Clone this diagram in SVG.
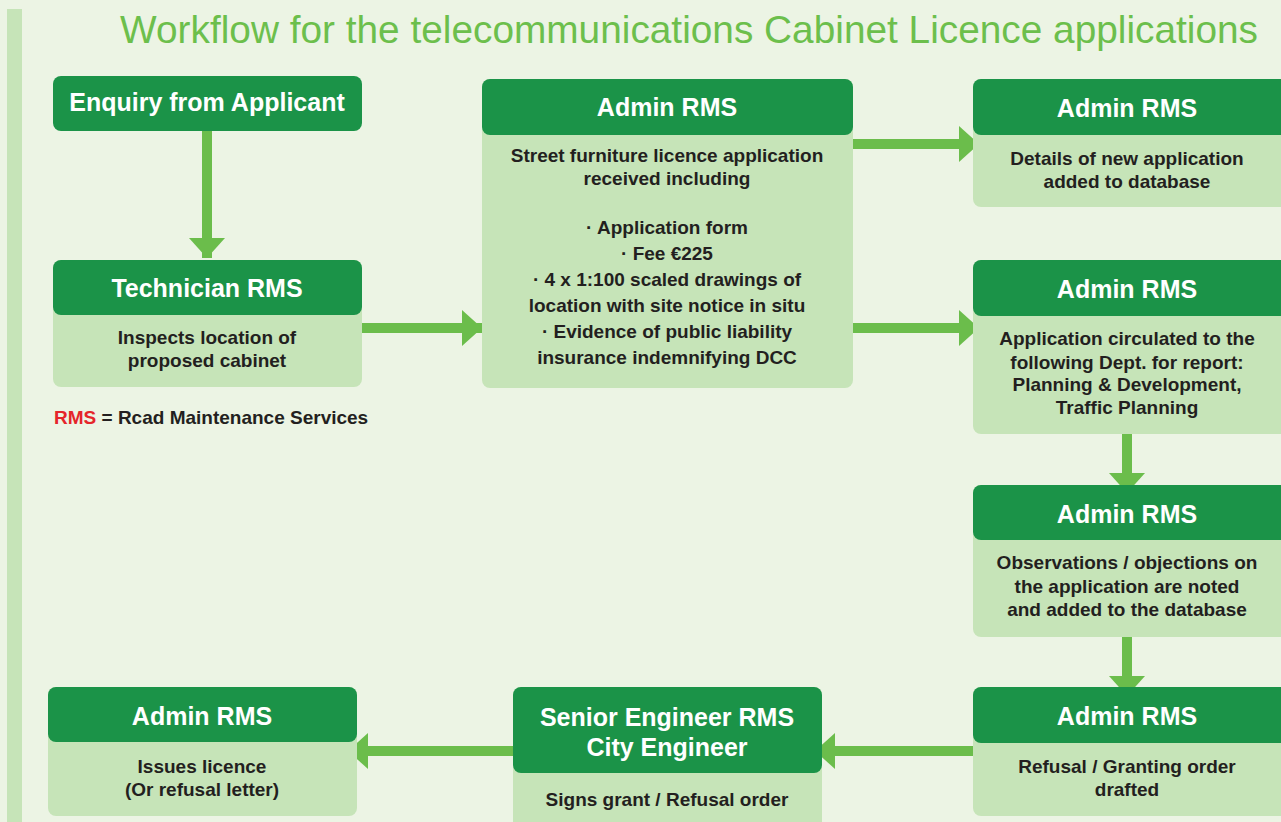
<svg xmlns="http://www.w3.org/2000/svg" width="1281" height="822" viewBox="0 0 1281 822">
  <style>
    .head { fill: #1b9348; }
    .body { fill: #c6e4b8; }
    .ht { font-family: "Liberation Sans", Arial, sans-serif; font-weight: bold; font-size: 25px; fill: #ffffff; text-anchor: middle; }
    .bt { font-family: "Liberation Sans", Arial, sans-serif; font-weight: bold; font-size: 19px; fill: #231f20; text-anchor: middle; }
    .conn { stroke: #6bbd4b; stroke-width: 10; fill: none; marker-end: url(#tip); }
  </style>
  <defs>
    <marker id="tip" viewBox="0 0 20 36" refX="20" refY="18" markerWidth="20" markerHeight="36" markerUnits="userSpaceOnUse" orient="auto">
      <path d="M0,0 L20,18 L0,36 Z" fill="#6bbd4b"/>
    </marker>
  </defs>

  <!-- page -->
  <rect x="0" y="0" width="1281" height="822" fill="#ecf4e4"/>
  <rect x="7" y="9" width="15" height="813" fill="#c6e4b8"/>
  <text x="1258" y="43" font-family="Liberation Sans, Arial, sans-serif" font-size="38.8" fill="#6cbf4c" text-anchor="end">Workflow for the telecommunications Cabinet Licence applications</text>

  <!-- connectors -->
  <g id="connectors">
    <line class="conn" x1="207" y1="131" x2="207" y2="258"/>
    <line class="conn" x1="362" y1="328" x2="482" y2="328"/>
    <line class="conn" x1="853" y1="144" x2="979" y2="144"/>
    <line class="conn" x1="853" y1="328" x2="979" y2="328"/>
    <line class="conn" x1="1127" y1="434" x2="1127" y2="493"/>
    <line class="conn" x1="1127" y1="637" x2="1127" y2="696"/>
    <line class="conn" x1="973" y1="751" x2="815" y2="751"/>
    <line class="conn" x1="513" y1="751" x2="348" y2="751"/>
  </g>

  <!-- nodes -->
  <g id="enquiry">
    <rect class="head" x="53" y="76" width="309" height="55" rx="8"/>
    <text class="ht" x="207" y="111">Enquiry from Applicant</text>
  </g>

  <g id="technician">
    <rect class="body" x="53" y="260" width="309" height="127" rx="8"/>
    <rect class="head" x="53" y="260" width="309" height="55" rx="8"/>
    <text class="ht" x="207" y="297">Technician RMS</text>
    <text class="bt" x="207" y="344">Inspects location of</text>
    <text class="bt" x="207" y="367">proposed cabinet</text>
  </g>

  <g id="legend">
    <text x="54" y="424" font-family="Liberation Sans, Arial, sans-serif" font-weight="bold" font-size="19" fill="#231f20"><tspan fill="#e5252a">RMS</tspan> = Rcad Maintenance Services</text>
  </g>

  <g id="application-received">
    <rect class="body" x="482" y="79" width="371" height="309" rx="8"/>
    <rect class="head" x="482" y="79" width="371" height="56" rx="8"/>
    <text class="ht" x="667" y="116">Admin RMS</text>
    <text class="bt" x="667" y="162">Street furniture licence application</text>
    <text class="bt" x="667" y="185">received including</text>
    <text class="bt" x="667" y="234">· Application form</text>
    <text class="bt" x="667" y="260">· Fee €225</text>
    <text class="bt" x="667" y="286">· 4 x 1:100 scaled drawings of</text>
    <text class="bt" x="667" y="312">location with site notice in situ</text>
    <text class="bt" x="667" y="338">· Evidence of public liability</text>
    <text class="bt" x="667" y="364">insurance indemnifying DCC</text>
  </g>

  <g id="database-entry">
    <rect class="body" x="973" y="79" width="320" height="128" rx="8"/>
    <rect class="head" x="973" y="79" width="320" height="56" rx="8"/>
    <text class="ht" x="1127" y="117">Admin RMS</text>
    <text class="bt" x="1127" y="165">Details of new application</text>
    <text class="bt" x="1127" y="188">added to database</text>
  </g>

  <g id="circulation">
    <rect class="body" x="973" y="260" width="320" height="174" rx="8"/>
    <rect class="head" x="973" y="260" width="320" height="56" rx="8"/>
    <text class="ht" x="1127" y="298">Admin RMS</text>
    <text class="bt" x="1127" y="345">Application circulated to the</text>
    <text class="bt" x="1127" y="369">following Dept. for report:</text>
    <text class="bt" x="1127" y="391">Planning &amp; Development,</text>
    <text class="bt" x="1127" y="414">Traffic Planning</text>
  </g>

  <g id="observations">
    <rect class="body" x="973" y="485" width="320" height="152" rx="8"/>
    <rect class="head" x="973" y="485" width="320" height="55" rx="8"/>
    <text class="ht" x="1127" y="523">Admin RMS</text>
    <text class="bt" x="1127" y="569">Observations / objections on</text>
    <text class="bt" x="1127" y="593">the application are noted</text>
    <text class="bt" x="1127" y="616">and added to the database</text>
  </g>

  <g id="order-drafted">
    <rect class="body" x="973" y="687" width="320" height="129" rx="8"/>
    <rect class="head" x="973" y="687" width="320" height="56" rx="8"/>
    <text class="ht" x="1127" y="725">Admin RMS</text>
    <text class="bt" x="1127" y="773">Refusal / Granting order</text>
    <text class="bt" x="1127" y="796">drafted</text>
  </g>

  <g id="engineer-sign-off">
    <rect class="body" x="513" y="687" width="309" height="145" rx="8"/>
    <rect class="head" x="513" y="687" width="309" height="86" rx="8"/>
    <text class="ht" x="667" y="726">Senior Engineer RMS</text>
    <text class="ht" x="667" y="756">City Engineer</text>
    <text class="bt" x="667" y="806">Signs grant / Refusal order</text>
  </g>

  <g id="licence-issued">
    <rect class="body" x="48" y="687" width="309" height="129" rx="8"/>
    <rect class="head" x="48" y="687" width="309" height="55" rx="8"/>
    <text class="ht" x="202" y="725">Admin RMS</text>
    <text class="bt" x="202" y="773">Issues licence</text>
    <text class="bt" x="202" y="796">(Or refusal letter)</text>
  </g>
</svg>
